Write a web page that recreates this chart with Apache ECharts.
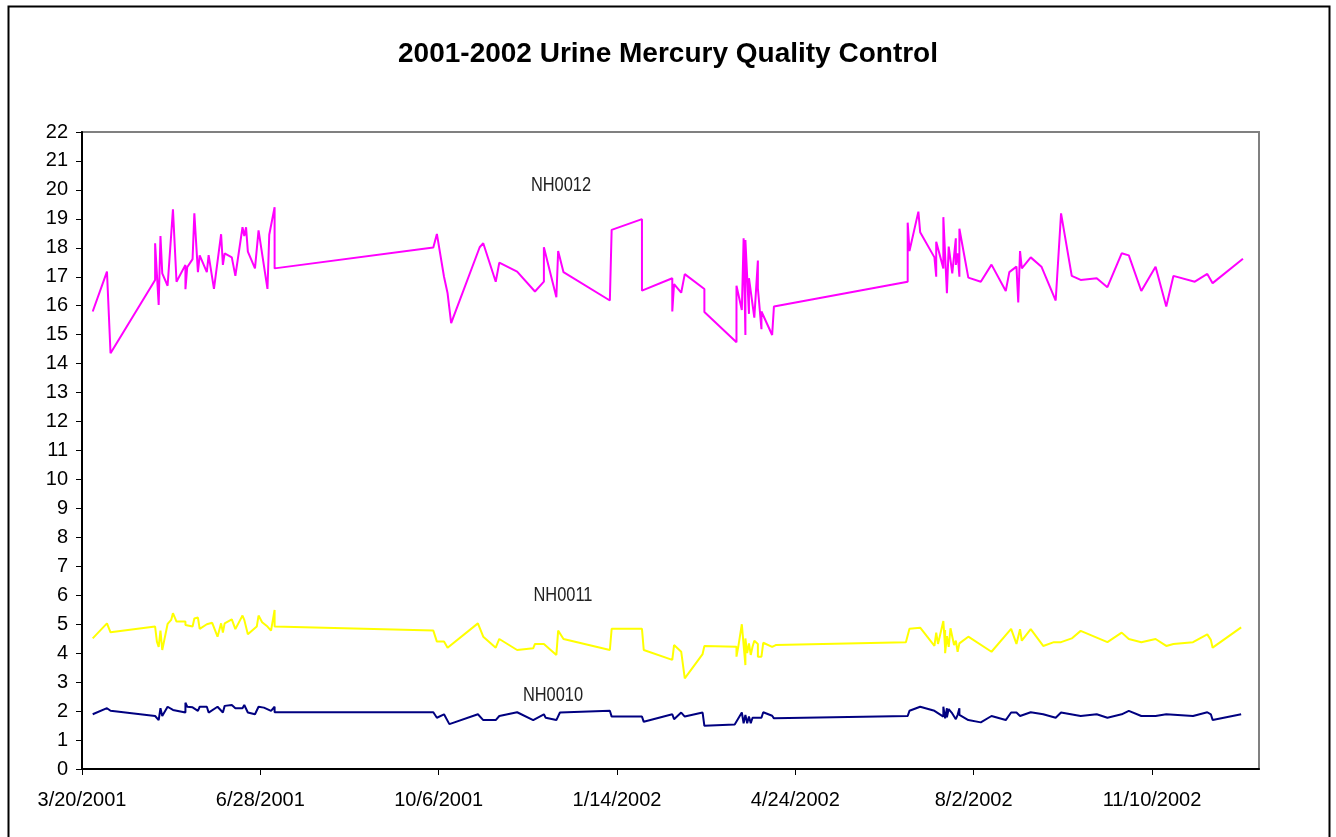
<!DOCTYPE html>
<html>
<head>
<meta charset="utf-8">
<script src="https://cdn.jsdelivr.net/npm/echarts@6/dist/echarts.min.js"></script>
<style>
html, body { margin: 0; padding: 0; background: #fff; }
#chart { width: 1336px; height: 837px; }
</style>
</head>
<body>
<div id="chart"></div>
<script>
// x values are days after 3/20/2001 (first axis date)
var START = Date.UTC(2001, 2, 20);
var DAY = 86400000;
var xMax = 660;
var xStep = 100;
var yMax = 22;

var title = '2001-2002 Urine Mercury Quality Control';
var seriesNames = ['NH0012', 'NH0011', 'NH0010'];

var nh0012 = [
    [6, 15.8], [14, 17.18], [16, 14.36], [41, 16.89], [41, 18.16], [43, 16.03], [44, 18.41], [45, 17.12],
    [48, 16.69], [51, 19.33], [53, 16.83], [58, 17.41], [58, 16.57], [59, 17.33], [62, 17.61], [63, 19.19],
    [65, 17.16], [66, 17.74], [70, 17.16], [71, 17.75], [74, 16.58], [78, 18.47], [79, 17.41], [80, 17.81],
    [84, 17.67], [86, 17.03], [90, 18.71], [91, 18.41], [92, 18.71], [93, 17.87], [97, 17.29], [99, 18.6],
    [104, 16.58], [105, 18.45], [108, 19.4], [108, 17.29],
    [197, 18.01], [199, 18.48], [203, 17.0], [205, 16.43], [207, 15.4], [223, 18.02], [225, 18.16], [232, 16.83],
    [234, 17.49], [244, 17.18], [254, 16.49], [259, 16.83], [259, 18.02], [266, 16.29], [267, 17.89], [270, 17.16],
    [296, 16.18], [297, 18.62], [314, 18.99], [314, 16.52], [331, 16.95], [331, 15.8], [332, 16.75], [336, 16.45],
    [338, 17.09], [349, 16.58], [349, 15.78], [367, 14.74], [367, 16.69], [370, 15.85], [371, 18.33], [372, 14.99],
    [372, 18.27], [374, 15.72], [374, 16.95], [377, 15.59], [379, 17.56], [379, 16.6], [381, 15.19], [381, 15.8],
    [387, 14.99], [388, 15.97],
    [463, 16.83], [463, 18.87], [464, 17.89], [469, 19.25], [470, 18.54], [478, 17.67], [479, 17.0], [479, 18.21],
    [483, 17.29], [483, 19.06], [485, 16.43], [486, 18.04], [488, 17.12], [490, 18.33], [490, 17.41], [491, 17.81],
    [492, 17.0], [492, 18.66], [497, 16.97], [504, 16.83], [510, 17.42], [518, 16.51], [520, 17.16], [524, 17.35],
    [525, 16.11], [526, 17.89], [527, 17.29], [532, 17.67], [538, 17.35], [546, 16.18], [549, 19.19], [555, 17.03],
    [560, 16.89], [569, 16.95], [575, 16.64], [583, 17.81], [587, 17.74], [594, 16.51], [602, 17.35], [608, 15.97],
    [612, 17.03], [624, 16.83], [631, 17.1], [634, 16.78], [651, 17.62]
];

var nh0011 = [
    [6, 4.51], [14, 5.03], [16, 4.72], [41, 4.92], [42, 4.4], [43, 4.22], [44, 4.78], [45, 4.11],
    [48, 5.01], [50, 5.15], [51, 5.38], [53, 5.09], [58, 5.09], [58, 4.97], [62, 4.92], [63, 5.2],
    [65, 5.23], [66, 4.84], [70, 5.0], [73, 5.05], [76, 4.57], [78, 5.03], [79, 4.71], [80, 5.03],
    [84, 5.17], [86, 4.83], [90, 5.3], [91, 5.15], [93, 4.65], [98, 4.92], [99, 5.3], [101, 5.07],
    [104, 4.92], [106, 4.78], [108, 5.49], [108, 4.92],
    [197, 4.78], [199, 4.4], [203, 4.4], [205, 4.19], [222, 5.03], [225, 4.57], [232, 4.19], [234, 4.49],
    [244, 4.11], [253, 4.17], [254, 4.32], [259, 4.32], [266, 3.94], [267, 4.78], [270, 4.49], [296, 4.11],
    [297, 4.84], [314, 4.84], [315, 4.11], [331, 3.77], [332, 4.28], [333, 4.31], [336, 4.05], [338, 3.13],
    [348, 3.97], [349, 4.25], [367, 4.22], [367, 3.88], [368, 4.22], [370, 5.0], [371, 4.28], [372, 3.59],
    [372, 4.51], [373, 4.0], [374, 4.34], [375, 3.94], [376, 4.22], [377, 4.43], [379, 4.32], [379, 3.88],
    [381, 3.88], [382, 4.36], [387, 4.22], [389, 4.28],
    [462, 4.38], [464, 4.84], [470, 4.88], [478, 4.25], [479, 4.71], [480, 4.32], [483, 5.11], [484, 4.17],
    [484, 4.8], [484, 4.0], [485, 4.59], [486, 4.22], [487, 4.86], [489, 4.28], [490, 4.43], [491, 4.05],
    [492, 4.34], [497, 4.57], [510, 4.05], [521, 4.84], [524, 4.32], [526, 4.83], [527, 4.43], [532, 4.83],
    [539, 4.25], [545, 4.38], [549, 4.38], [555, 4.51], [560, 4.77], [575, 4.38], [583, 4.71], [587, 4.49],
    [594, 4.38], [602, 4.49], [608, 4.25], [612, 4.32], [623, 4.38], [631, 4.65], [633, 4.46], [634, 4.19],
    [650, 4.89]
];

var nh0010 = [
    [6, 1.89], [14, 2.1], [16, 2.01], [41, 1.83], [43, 1.69], [44, 2.1], [45, 1.83], [48, 2.15],
    [51, 2.04], [58, 1.95], [58, 2.29], [59, 2.15], [62, 2.13], [65, 2.01], [66, 2.15], [70, 2.15],
    [71, 1.95], [76, 2.15], [79, 1.95], [80, 2.18], [84, 2.21], [86, 2.1], [90, 2.1], [91, 2.21],
    [93, 1.95], [97, 1.89], [99, 2.15], [102, 2.12], [106, 2.01], [108, 2.15], [108, 1.96],
    [197, 1.96], [199, 1.77], [203, 1.89], [206, 1.55], [222, 1.89], [225, 1.69], [232, 1.69], [234, 1.83],
    [244, 1.96], [253, 1.69], [259, 1.89], [260, 1.77], [266, 1.69], [268, 1.95], [296, 2.01], [297, 1.81],
    [314, 1.81], [315, 1.63], [331, 1.89], [332, 1.72], [336, 1.95], [338, 1.81], [348, 1.95], [349, 1.49],
    [366, 1.54], [370, 1.95], [371, 1.58], [372, 1.87], [373, 1.58], [374, 1.81], [375, 1.58], [376, 1.77],
    [381, 1.77], [382, 1.96], [387, 1.84], [388, 1.75],
    [463, 1.83], [464, 2.01], [470, 2.15], [478, 2.01], [483, 1.81], [483, 2.15], [484, 1.75], [485, 2.1],
    [485, 1.79], [486, 2.07], [488, 1.92], [490, 1.72], [491, 1.87], [492, 2.1], [492, 1.87], [497, 1.69],
    [504, 1.61], [510, 1.83], [518, 1.69], [521, 1.95], [524, 1.95], [526, 1.83], [527, 1.89], [532, 1.96],
    [539, 1.89], [546, 1.77], [549, 1.95], [560, 1.83], [569, 1.89], [575, 1.77], [583, 1.89], [587, 2.01],
    [594, 1.83], [602, 1.83], [608, 1.89], [623, 1.83], [631, 1.96], [633, 1.89], [634, 1.69], [650, 1.89]
];

function dayLabel (d) {
    var dt = new Date(START + d * DAY);
    return (dt.getUTCMonth() + 1) + '/' + dt.getUTCDate() + '/' + dt.getUTCFullYear();
}

function lineSeries (name, data, color) {
    return {
        name: name,
        type: 'line',
        data: data,
        symbol: 'none',
        animation: false,
        lineStyle: { color: color, width: 2 }
    };
}

// narrow-looking series labels: Liberation Sans squeezed horizontally
function seriesLabel (text, x, y) {
    return {
        type: 'text',
        x: x,
        y: y,
        scaleX: 0.82,
        silent: true,
        style: {
            text: text,
            align: 'center',
            verticalAlign: 'middle',
            fontFamily: '"Liberation Sans", Arial, sans-serif',
            fontSize: 20,
            fill: '#222'
        }
    };
}

var axisFont = '"Liberation Sans", Arial, sans-serif';

var chart = echarts.init(document.getElementById('chart'));
chart.setOption({
    backgroundColor: '#fff',
    animation: false,
    title: {
        text: title,
        left: 'center',
        top: 35,
        textStyle: {
            fontFamily: axisFont,
            fontWeight: 'bold',
            fontSize: 28,
            color: '#000'
        }
    },
    grid: {
        left: 82,
        right: 77,
        top: 132,
        bottom: 68,
        show: true,
        borderColor: '#808080',
        borderWidth: 2
    },
    xAxis: {
        type: 'value',
        min: 0,
        max: xMax,
        interval: xStep,
        splitLine: { show: false },
        axisLine: { lineStyle: { color: '#000', width: 2 } },
        axisTick: { show: true, length: 6, lineStyle: { color: '#000' } },
        axisLabel: {
            formatter: dayLabel,
            margin: 21,
            fontFamily: axisFont,
            fontSize: 20,
            color: '#000',
            showMaxLabel: false
        }
    },
    yAxis: {
        type: 'value',
        min: 0,
        max: yMax,
        interval: 1,
        splitLine: { show: false },
        axisLine: { show: true, lineStyle: { color: '#000', width: 2 } },
        axisTick: { show: true, length: 6, lineStyle: { color: '#000' } },
        axisLabel: {
            margin: 14,
            fontFamily: axisFont,
            fontSize: 20,
            color: '#000'
        }
    },
    series: [
        lineSeries(seriesNames[0], nh0012, '#FF00FF'),
        lineSeries(seriesNames[1], nh0011, '#FFFF00'),
        lineSeries(seriesNames[2], nh0010, '#000080')
    ],
    graphic: [
        {
            type: 'rect',
            shape: { x: 8.5, y: 6.5, width: 1321, height: 840 },
            style: { fill: 'none', stroke: '#000', lineWidth: 2 },
            silent: true
        },
        seriesLabel(seriesNames[0], 561, 185),
        seriesLabel(seriesNames[1], 563, 595),
        seriesLabel(seriesNames[2], 553, 695)
    ]
});
</script>
</body>
</html>
